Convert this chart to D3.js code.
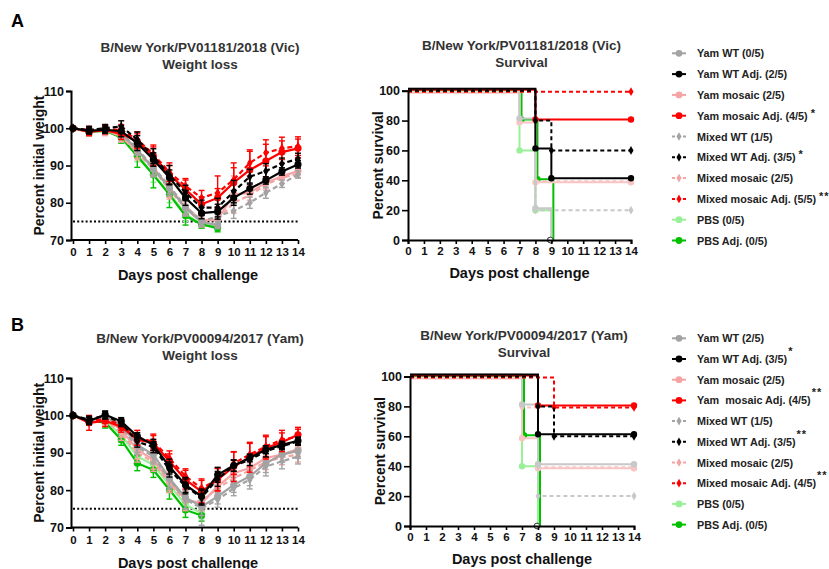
<!DOCTYPE html>
<html><head><meta charset="utf-8">
<script src="https://cdn.jsdelivr.net/npm/d3@7"></script>
<style>
html,body{margin:0;padding:0;background:#fff;}
svg{display:block;font-family:"Liberation Sans",Arial,sans-serif;}
text{font-weight:bold;}
</style></head><body>
<svg id="c" width="829" height="569"></svg>
<script>
// ---------- DATA ----------
const dayTicks = [0,1,2,3,4,5,6,7,8,9,10,11,12,13,14];
const weightTicks = [70,80,90,100,110];
const survivalTicks = [0,20,40,60,80,100];
const seriesKeys = ["yamWT","yamWTAdj","yamMos","yamMosAdj","mixWT","mixWTAdj","mixMos","mixMosAdj","pbs","pbsAdj"];

const legendA = ["Yam WT (0/5)","Yam WT Adj. (2/5)","Yam mosaic (2/5)","Yam mosaic Adj. (4/5)","Mixed WT (1/5)","Mixed WT Adj. (3/5)","Mixed mosaic (2/5)","Mixed mosaic Adj. (5/5)","PBS (0/5)","PBS Adj. (0/5)"];
const starsA = ["","","","*","","*","","**","",""];
const legendB = ["Yam WT (2/5)","Yam WT Adj. (3/5)","Yam mosaic (2/5)","Yam  mosaic Adj. (4/5)","Mixed WT (1/5)","Mixed WT Adj. (3/5)","Mixed mosaic (2/5)","Mixed mosaic Adj. (4/5)","PBS (0/5)","PBS Adj. (0/5)"];
const starsB = ["","*","","**","","**","","**","",""];

// Panel A weight (% initial weight), mean per day
const wA_yamWT     = [100,99.2,100,98.5,94.3,89,84,78.5,74.8,74.0];
const wA_yamWTAdj  = [100,99.3,99.6,99.2,96,91.6,86.8,81.3,77.2,77.6,81.3,83.8,86.0,88.4,90.3];
const wA_yamMos    = [100,99,99.5,98,94,89.5,84,79,75.3,75.5,82.2,82.7,85.4,87.1,88.5];
const wA_yamMosAdj = [100,99,99.5,98.5,96.5,92.5,87.5,83.6,79.6,81.3,85.4,88.8,91.2,93.6,94.6];
const wA_mixWT     = [100,99.3,100,98.8,94.5,89.5,84.5,79,75,76.4,77.8,80,82.7,85.1,87.6];
const wA_mixWTAdj  = [100,99.5,100,100.5,97,92.5,87.5,82.7,78.7,78.7,83,87,88.5,90.5,91.8];
const wA_mixMos    = [100,99,99.5,97.8,93.5,89,83.5,78.5,75,75.5,80,82,84.9,86.7,87.8];
const wA_mixMosAdj = [100,99.5,99.8,99.5,97,93,88.2,84.5,81.3,82.7,86.2,90.7,93.4,94.6,95.2];
const wA_pbs       = [100,99,99.5,97.5,93,87.5,82.5,77,74.2,73.5];
const wA_pbsAdj    = [100,99,99.3,97.5,92.5,87.5,82.2,76.5,74.2,73.2];
// Panel A error bars (SD)
const eA_yamWT     = [0,0.8,0.8,1,1.5,2,2,2,1,1];
const eA_yamWTAdj  = [0,0.8,1,1.5,2,1.8,2,2,1.5,2,2,1.5,1,1,1];
const eA_yamMos    = [0,1,1.5,1.5,2,2,2.5,2,1.5,1.5,5,2,1.5,1,1];
const eA_yamMosAdj = [0,1,1,1.5,2,2.5,2.5,2.5,2,2.5,4,5,4.5,3,2.5];
const eA_mixWT     = [0,0.8,0.8,1,1.5,2,2,2,1.5,2,2,1.5,1.5,1,1];
const eA_mixWTAdj  = [0,1,1,1.5,2,2,2.5,2,2,2.5,3,2,2,1.5,1.5];
const eA_mixMos    = [0,1,1.2,1.5,2,2,2.5,2,1.5,2,2,2,1.5,1.5,1];
const eA_mixMosAdj = [0,1,1,1.5,2,2.5,2.5,2,2,4.5,4.5,3.5,3.5,3,2.5];
const eA_pbs       = [0,1,1,1.5,2,2,2.5,2,1,1];
const eA_pbsAdj    = [0,1,1,1.5,3,3.5,3.5,2.5,1,1];

// Panel B weight
const wB_yamWT     = [100,98.8,99.5,97.5,92.1,89.5,83.2,78,75.6,78.3,81.4,83.7,87.2,89.5,90.5];
const wB_yamWTAdj  = [100,98.5,100.2,98.4,94.4,92.1,86.3,81.4,78.3,84.1,86.6,88.6,90.8,92.1,93.2];
const wB_yamMos    = [100,98.5,99,96.2,90.8,88.1,82.3,77.5,76.5,81,84.5,85.9,88.6,89.5,91];
const wB_yamMosAdj = [100,98,98.5,97,93.5,92.6,87.7,82.8,79.6,82.8,86.3,88.8,91.3,92.8,94.8];
const wB_mixWT     = [100,98.8,99.3,97,91.5,89,82.8,77.5,75.2,77.4,80.5,82.8,86.3,87.7,89];
const wB_mixWTAdj  = [100,98.8,100,98,93,91.5,85.5,81,78,83,86.5,88.1,90.4,91.8,93];
const wB_mixMos    = [100,98.5,98.8,95.3,90,87.5,81.8,77,77,80.5,83.2,85.3,87.5,88.8,89.5];
const wB_mixMosAdj = [100,98.5,99,97.5,94,93,88.5,83.7,80.5,82.8,87.2,89.5,91.7,93.5,94.3];
const wB_pbs       = [100,98.5,98.5,94.8,89,86.8,81.4,76.1,73.8];
const wB_pbsAdj    = [100,98.5,98.1,93.5,87.2,85.4,80.1,74.7,73.2];
const eB_yamWT     = [0,1,1,1.5,2,2,2.5,3,5,2,2,2.5,2.5,2,2];
const eB_yamWTAdj  = [0,1,1,1,1,1.5,2,2,2,2,1.5,1,1,1,1];
const eB_yamMos    = [0,1,1.5,2,2.5,2.5,2.5,2.5,2,2,2,2.5,2,2,2];
const eB_yamMosAdj = [0,2,1.5,1.5,1.5,2,2,2.5,3,3,4,4,3,2.5,2];
const eB_mixWT     = [0,1,1,1.5,2,2,2.5,2.5,2,2,2,2.5,2.5,2,2];
const eB_mixWTAdj  = [0,1,1,1,1.5,1.5,2,2,2,2,1.5,1.5,1.5,1,1];
const eB_mixMos    = [0,1,1.5,2,2.5,2.5,2.5,2.5,2,2,2,2,2,2,2];
const eB_mixMosAdj = [0,1,1,1.5,2,2,2,2,2.5,3,3,3,3,2.5,2];
const eB_pbs       = [0,1,1.5,2,2,2,2,2,1.5];
const eB_pbsAdj    = [0,1,1.5,1.5,2,2,2.5,2,1.5];

// Survival (Kaplan-Meier steps) [day, percent]
const sA_yamWT     = [[0,100],[7,80],[8,20],[9,0]];
const sA_yamWTAdj  = [[0,100],[8,60],[9,40],[14,40]];
const sA_yamMos    = [[0,100],[7,80],[8,40],[14,40]];
const sA_yamMosAdj = [[0,100],[8,80],[14,80]];
const sA_mixWT     = [[0,100],[8,20],[14,20]];
const sA_mixWTAdj  = [[0,100],[8,80],[9,60],[14,60]];
const sA_mixMos    = [[0,100],[8,40],[14,40]];
const sA_mixMosAdj = [[0,100],[14,100]];
const sA_pbs       = [[0,100],[7,60],[8,20],[9,0]];
const sA_pbsAdj    = [[0,100],[7,80],[8,40],[9,0]];

const sB_yamWT     = [[0,100],[7,80],[8,40],[14,40]];
const sB_yamWTAdj  = [[0,100],[8,60],[14,60]];
const sB_yamMos    = [[0,100],[7,60],[8,40],[14,40]];
const sB_yamMosAdj = [[0,100],[8,80],[14,80]];
const sB_mixWT     = [[0,100],[8,20],[14,20]];
const sB_mixWTAdj  = [[0,100],[8,80],[9,60],[14,60]];
const sB_mixMos    = [[0,100],[7,80],[8,40],[14,40]];
const sB_mixMosAdj = [[0,100],[9,80],[14,80]];
const sB_pbs       = [[0,100],[7,40],[8,0]];
const sB_pbsAdj    = [[0,100],[7,60],[8,0]];

// ---------- STYLE ----------
const colors = {yamWT:"#a3a3a3",yamWTAdj:"#000000",yamMos:"#f5a3a3",yamMosAdj:"#ff0000",
  mixWT:"#a3a3a3",mixWTAdj:"#000000",mixMos:"#f5a3a3",mixMosAdj:"#ff0000",pbs:"#99f099",pbsAdj:"#00c000"};
const survColors = {yamWT:"#c8c8c8",yamWTAdj:"#000000",yamMos:"#f8c4c4",yamMosAdj:"#ff0000",
  mixWT:"#c8c8c8",mixWTAdj:"#000000",mixMos:"#f8c4c4",mixMosAdj:"#ff0000",pbs:"#99f099",pbsAdj:"#00c000"};
const dashed = k => k.startsWith("mix");
const drawOrder = ["pbs","pbsAdj","yamMos","mixMos","yamWT","mixWT","mixMosAdj","yamMosAdj","mixWTAdj","yamWTAdj"];
const survOffset = {yamWT:-2,yamWTAdj:-2,yamMos:2,yamMosAdj:-1,mixWT:0,mixWTAdj:0,mixMos:1,mixMosAdj:1,pbs:0,pbsAdj:-1};
const survXOff = {pbsAdj:2,pbs:0};

const svg = d3.select("#c");

function symbolPath(k, cSize, dSize){
  return d3.symbol().type(dashed(k)?d3.symbolDiamond:d3.symbolCircle).size(dashed(k)?dSize:cSize)();
}

function axisStyle(g){
  g.selectAll("path.domain").attr("stroke","#000").attr("stroke-width",2);
  g.selectAll(".tick line").attr("stroke","#000").attr("stroke-width",1.6);
  g.selectAll(".tick text").attr("fill","#111").style("font-size","11.5px").style("font-weight","bold").style("font-family","'Liberation Sans',Arial,sans-serif");
}

function titles(cx, y1, l1, l2){
  svg.append("text").attr("x",cx).attr("y",y1).attr("text-anchor","middle").attr("fill","#333").style("font-size","13.5px").text(l1);
  svg.append("text").attr("x",cx).attr("y",y1+17).attr("text-anchor","middle").attr("fill","#333").style("font-size","13.5px").text(l2);
}

function weightPanel(P){
  const x = d3.scaleLinear().domain([0,14]).range([73,298]);
  const y = d3.scaleLinear().domain([70,110]).range(P.wy);
  const g = svg.append("g");
  g.append("line").attr("x1",x(0)).attr("x2",x(14)).attr("y1",y(75)).attr("y2",y(75))
    .attr("stroke","#000").attr("stroke-width",2).attr("stroke-dasharray","2,2.2");
  drawOrder.forEach(k=>{
    const vals = P.w[k], errs = P.e[k], c = colors[k];
    const sg = g.append("g");
    vals.forEach((v,i)=>{
      const e = errs[i]; if(!e) return;
      sg.append("line").attr("x1",x(i)).attr("x2",x(i)).attr("y1",y(v-e)).attr("y2",y(v+e)).attr("stroke",c).attr("stroke-width",1.4);
      [v-e,v+e].forEach(t=>sg.append("line").attr("x1",x(i)-3).attr("x2",x(i)+3).attr("y1",y(t)).attr("y2",y(t)).attr("stroke",c).attr("stroke-width",1.4));
    });
    sg.append("path").datum(vals).attr("fill","none").attr("stroke",c).attr("stroke-width",2.2)
      .attr("stroke-dasharray",dashed(k)?"5,3":null)
      .attr("d",d3.line().x((d,i)=>x(i)).y(d=>y(d)));
    sg.selectAll("path.m").data(vals).join("path").attr("class","m")
      .attr("transform",(d,i)=>`translate(${x(i)},${y(d)})`).attr("d",symbolPath(k,40,26)).attr("fill",c);
  });
  const ax = g.append("g").attr("transform",`translate(0,${P.wy[0]})`)
    .call(d3.axisBottom(x).tickValues(dayTicks).tickSize(4).tickPadding(4).tickFormat(d3.format("d")));
  ax.select("path.domain").attr("d",`M71,0H${x(14)}`);
  axisStyle(ax);
  const ay = g.append("g").attr("transform",`translate(71,0)`)
    .call(d3.axisLeft(y).tickValues(weightTicks).tickSize(5).tickPadding(2));
  axisStyle(ay);
  ay.selectAll(".tick text").style("font-size","12.5px");
  svg.append("text").attr("x",188).attr("y",P.wy[0]+40).attr("text-anchor","middle").attr("fill","#111").style("font-size","14.5px").text("Days post challenge");
  const cy = (P.wy[0]+P.wy[1])/2;
  svg.append("text").attr("transform",`translate(${44},${cy}) rotate(-90)`).attr("text-anchor","middle").attr("fill","#111").style("font-size","14px").text("Percent initial weight");
  titles(200, P.tw, P.title, "Weight loss");
}

function survivalPanel(P){
  const x = d3.scaleLinear().domain([0,14]).range(P.sx);
  const y = d3.scaleLinear().domain([0,100]).range(P.sy);
  const g = svg.append("g");
  drawOrder.forEach(k=>{
    const pts = P.s[k], c = survColors[k], off = survOffset[k]||0, xo = survXOff[k]||0;
    const sg = g.append("g");
    let dstr = "";
    pts.forEach((p,i)=>{
      const px = x(p[0]) + (i>0?xo:0), py = y(p[1]) + (p[1]>0?off:0);
      if(i===0) dstr += `M${px},${py}`;
      else { dstr += `H${px}V${py}`; }
    });
    sg.append("path").attr("d",dstr).attr("fill","none").attr("stroke",c).attr("stroke-width",2)
      .attr("stroke-dasharray",dashed(k)?"4,3":null);
    pts.slice(1).forEach(p=>{
      const px = x(p[0]) + xo, py = y(p[1]) + (p[1]>0?off:0);
      if(p[1]===0){
        sg.append("circle").attr("cx",x(p[0])-1).attr("cy",py).attr("r",2.8).attr("fill","#fff").attr("stroke","#444").attr("stroke-width",1);
      } else {
        sg.append("path").attr("transform",`translate(${px},${py})`).attr("d",symbolPath(k,32,22)).attr("fill",c);
      }
    });
  });
  const ax = g.append("g").attr("transform",`translate(0,${P.sy[0]})`)
    .call(d3.axisBottom(x).tickValues(dayTicks).tickSize(4).tickPadding(3).tickFormat(d3.format("d")));
  axisStyle(ax);
  const ay = g.append("g").attr("transform",`translate(${P.sx[0]},0)`)
    .call(d3.axisLeft(y).tickValues(survivalTicks).tickSize(6).tickPadding(2));
  axisStyle(ay);
  ay.selectAll(".tick text").style("font-size","12.5px");
  const cx = (P.sx[0]+P.sx[1])/2;
  svg.append("text").attr("x",cx).attr("y",P.sy[0]+38).attr("text-anchor","middle").attr("fill","#111").style("font-size","14.5px").text("Days post challenge");
  const cy = (P.sy[0]+P.sy[1])/2;
  svg.append("text").attr("transform",`translate(${P.sx[0]-25},${cy}) rotate(-90)`).attr("text-anchor","middle").attr("fill","#111").style("font-size","14px").text("Percent survival");
  titles(cx+2, P.ts, P.title, "Survival");
}

function legend(P){
  const g = svg.append("g");
  seriesKeys.forEach((k,i)=>{
    const yy = P.ly + i*P.lstep;
    const c = colors[k];
    const row = g.append("g");
    if(dashed(k)){
      row.append("line").attr("x1",672).attr("x2",687).attr("y1",yy).attr("y2",yy).attr("stroke",c).attr("stroke-width",2).attr("stroke-dasharray","3,2.5");
    } else {
      row.append("line").attr("x1",672).attr("x2",686).attr("y1",yy).attr("y2",yy).attr("stroke",c).attr("stroke-width",2);
    }
    row.append("path").attr("transform",`translate(679,${yy})`).attr("d",symbolPath(k,36,22)).attr("fill",c);
    const t = row.append("text").attr("x",697).attr("y",yy+4).attr("fill","#222").style("font-size","10.8px").style("white-space","pre").text(P.labels[i]);
    if(P.stars[i]){
      const w = t.node().getComputedTextLength();
      row.append("text").attr("x",697+w+P.starGap).attr("y",yy+4-P.starRaise).attr("fill","#222").style("font-size","11px").style("letter-spacing","1px").text(P.stars[i]);
    }
  });
}

const panels = [
  {letter:"A", ly0:27, title:"B/New York/PV01181/2018 (Vic)", tw:52, ts:50,
   wy:[240,91], sx:[408,631], sy:[240,90.7],
   w:{yamWT:wA_yamWT,yamWTAdj:wA_yamWTAdj,yamMos:wA_yamMos,yamMosAdj:wA_yamMosAdj,mixWT:wA_mixWT,mixWTAdj:wA_mixWTAdj,mixMos:wA_mixMos,mixMosAdj:wA_mixMosAdj,pbs:wA_pbs,pbsAdj:wA_pbsAdj},
   e:{yamWT:eA_yamWT,yamWTAdj:eA_yamWTAdj,yamMos:eA_yamMos,yamMosAdj:eA_yamMosAdj,mixWT:eA_mixWT,mixWTAdj:eA_mixWTAdj,mixMos:eA_mixMos,mixMosAdj:eA_mixMosAdj,pbs:eA_pbs,pbsAdj:eA_pbsAdj},
   s:{yamWT:sA_yamWT,yamWTAdj:sA_yamWTAdj,yamMos:sA_yamMos,yamMosAdj:sA_yamMosAdj,mixWT:sA_mixWT,mixWTAdj:sA_mixWTAdj,mixMos:sA_mixMos,mixMosAdj:sA_mixMosAdj,pbs:sA_pbs,pbsAdj:sA_pbsAdj},
   labels:legendA, stars:starsA, ly:53.3, lstep:20.8, starGap:3, starRaise:3},
  {letter:"B", ly0:331, title:"B/New York/PV00094/2017 (Yam)", tw:343, ts:340,
   wy:[527.5,378], sx:[410,634], sy:[526,376.5],
   w:{yamWT:wB_yamWT,yamWTAdj:wB_yamWTAdj,yamMos:wB_yamMos,yamMosAdj:wB_yamMosAdj,mixWT:wB_mixWT,mixWTAdj:wB_mixWTAdj,mixMos:wB_mixMos,mixMosAdj:wB_mixMosAdj,pbs:wB_pbs,pbsAdj:wB_pbsAdj},
   e:{yamWT:eB_yamWT,yamWTAdj:eB_yamWTAdj,yamMos:eB_yamMos,yamMosAdj:eB_yamMosAdj,mixWT:eB_mixWT,mixWTAdj:eB_mixWTAdj,mixMos:eB_mixMos,mixMosAdj:eB_mixMosAdj,pbs:eB_pbs,pbsAdj:eB_pbsAdj},
   s:{yamWT:sB_yamWT,yamWTAdj:sB_yamWTAdj,yamMos:sB_yamMos,yamMosAdj:sB_yamMosAdj,mixWT:sB_mixWT,mixWTAdj:sB_mixWTAdj,mixMos:sB_mixMos,mixMosAdj:sB_mixMosAdj,pbs:sB_pbs,pbsAdj:sB_pbsAdj},
   labels:legendB, stars:starsB, ly:338.3, lstep:20.7, starGap:1, starRaise:8}
];

panels.forEach(P=>{
  svg.append("text").attr("x",11).attr("y",P.ly0).attr("fill","#000").style("font-size","18px").text(P.letter);
  weightPanel(P);
  survivalPanel(P);
  legend(P);
});
</script>
</body></html>
